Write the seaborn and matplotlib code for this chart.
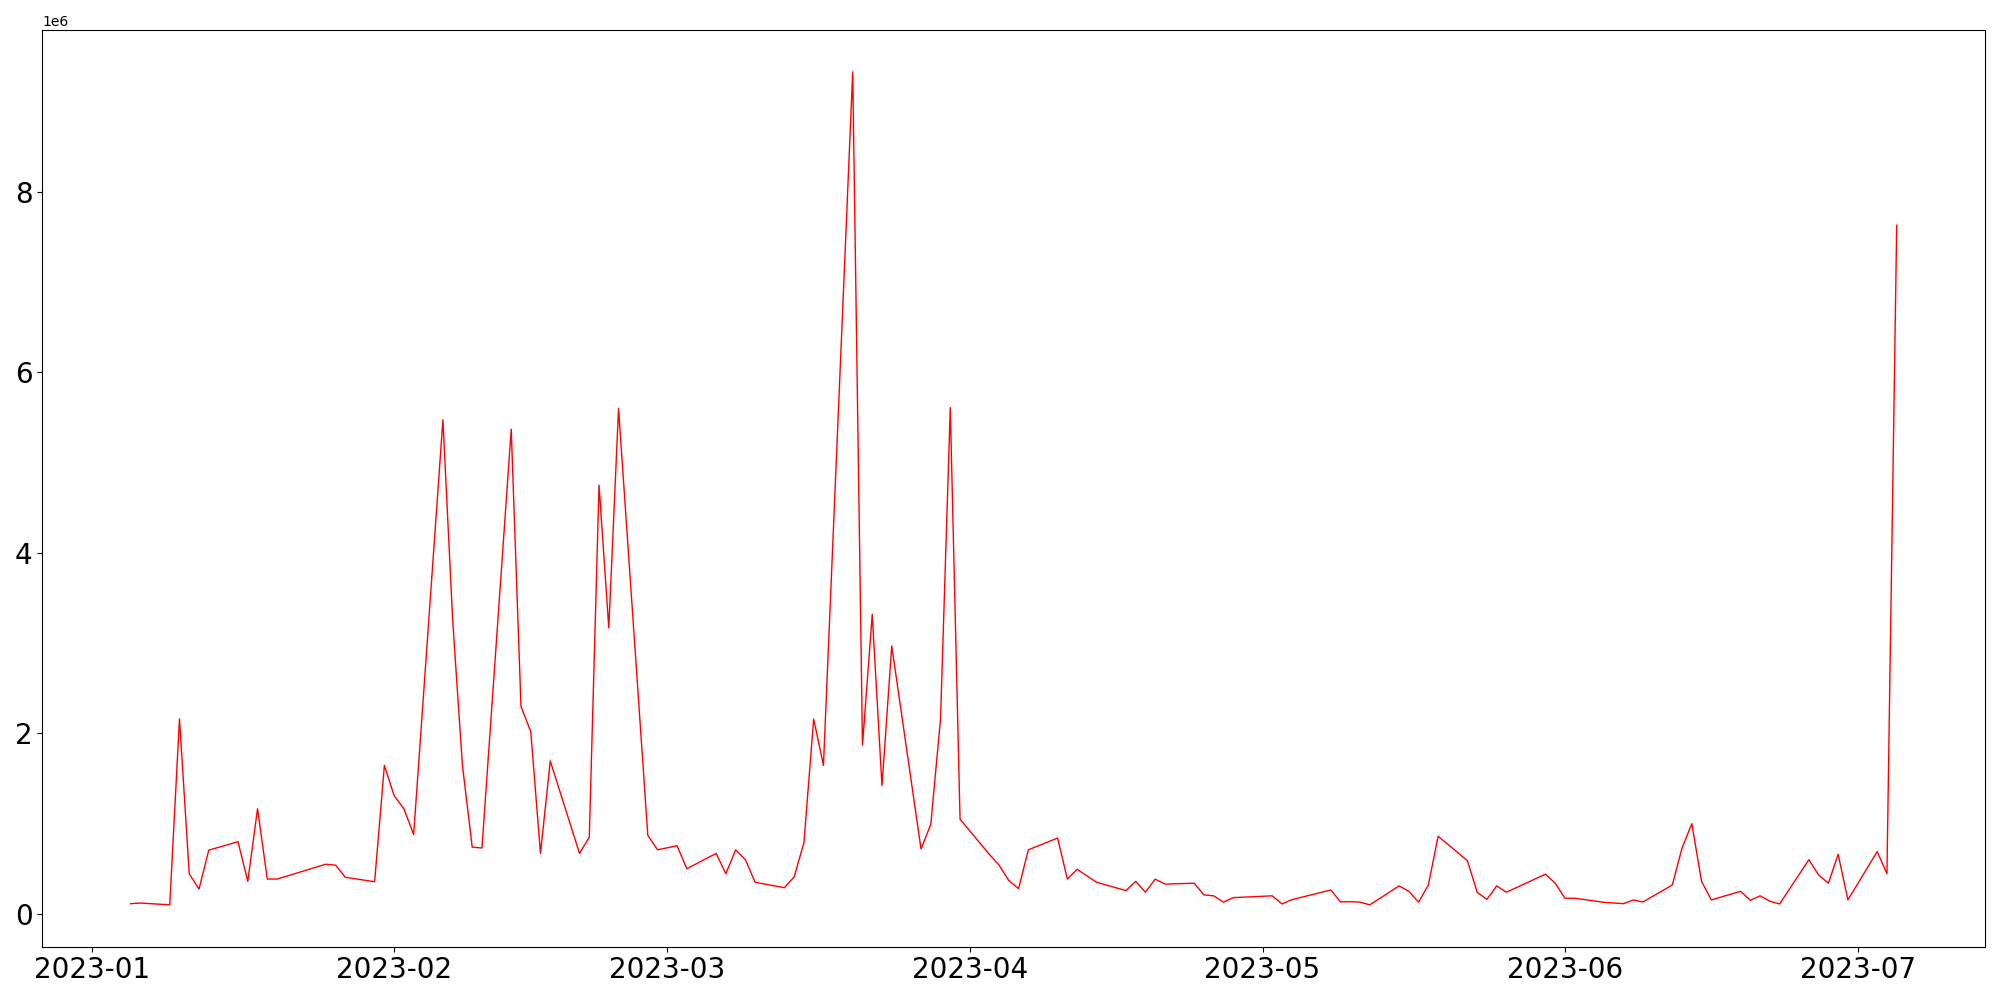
import numpy as np
import pandas as pd
import matplotlib
matplotlib.use('Agg')
import matplotlib.pyplot as plt
import seaborn as sns

# daily values (gaps are days with no data)
dates = ['2023-01-05', '2023-01-06', '2023-01-09', '2023-01-10', '2023-01-11', '2023-01-12', '2023-01-13',
         '2023-01-16', '2023-01-17', '2023-01-18', '2023-01-19', '2023-01-20',
         '2023-01-25', '2023-01-26', '2023-01-27', '2023-01-30', '2023-01-31',
         '2023-02-01', '2023-02-02', '2023-02-03', '2023-02-06', '2023-02-07', '2023-02-08', '2023-02-09',
         '2023-02-10', '2023-02-13', '2023-02-14', '2023-02-15', '2023-02-16', '2023-02-17',
         '2023-02-20', '2023-02-21', '2023-02-22', '2023-02-23', '2023-02-24', '2023-02-27', '2023-02-28',
         '2023-03-02', '2023-03-03', '2023-03-06', '2023-03-07', '2023-03-08', '2023-03-09', '2023-03-10',
         '2023-03-13', '2023-03-14', '2023-03-15', '2023-03-16', '2023-03-17',
         '2023-03-20', '2023-03-21', '2023-03-22', '2023-03-23', '2023-03-24',
         '2023-03-27', '2023-03-28', '2023-03-29', '2023-03-30', '2023-03-31',
         '2023-04-03', '2023-04-04', '2023-04-05', '2023-04-06', '2023-04-07',
         '2023-04-10', '2023-04-11', '2023-04-12', '2023-04-14',
         '2023-04-17', '2023-04-18', '2023-04-19', '2023-04-20', '2023-04-21',
         '2023-04-24', '2023-04-25', '2023-04-26', '2023-04-27', '2023-04-28',
         '2023-05-02', '2023-05-03', '2023-05-04', '2023-05-08', '2023-05-09', '2023-05-10', '2023-05-11',
         '2023-05-12', '2023-05-15', '2023-05-16', '2023-05-17', '2023-05-18', '2023-05-19',
         '2023-05-22', '2023-05-23', '2023-05-24', '2023-05-25', '2023-05-26', '2023-05-30', '2023-05-31',
         '2023-06-01', '2023-06-02', '2023-06-05', '2023-06-07', '2023-06-08', '2023-06-09',
         '2023-06-12', '2023-06-13', '2023-06-14', '2023-06-15', '2023-06-16',
         '2023-06-19', '2023-06-20', '2023-06-21', '2023-06-22', '2023-06-23',
         '2023-06-26', '2023-06-27', '2023-06-28', '2023-06-29', '2023-06-30',
         '2023-07-03', '2023-07-04', '2023-07-05']

values = [113000, 120000, 100000, 2160000, 445000, 275000, 706000,
          800000, 360000, 1165000, 386000, 386000,
          550000, 540000, 406000, 356000, 1645000,
          1310000, 1165000, 880000, 5475000, 3250000, 1645000, 740000,
          730000, 5370000, 2300000, 2020000, 670000, 1695000,
          670000, 850000, 4750000, 3170000, 5600000, 870000, 710000,
          755000, 500000, 670000, 445000, 710000, 600000, 350000,
          290000, 410000, 790000, 2160000, 1645000,
          9330000, 1870000, 3320000, 1420000, 2970000,
          720000, 990000, 2160000, 5610000, 1050000,
          660000, 540000, 370000, 280000, 710000,
          840000, 386000, 494000, 350000,
          258000, 360000, 240000, 385000, 330000,
          340000, 210000, 200000, 130000, 180000,
          200000, 110000, 157000, 265000, 132000, 135000, 130000,
          100000, 310000, 250000, 130000, 320000, 860000,
          590000, 240000, 160000, 310000, 240000, 440000, 340000,
          173000, 173000, 128000, 113000, 154000, 132000,
          320000, 730000, 1000000, 360000, 155000,
          250000, 150000, 200000, 140000, 110000,
          600000, 430000, 340000, 660000, 155000,
          690000, 445000, 7630000]

df = pd.DataFrame({'date': pd.to_datetime(dates), 'value': values})

fig, ax = plt.subplots(figsize=(20, 10), dpi=100)
sns.lineplot(x='date', y='value', data=df, color='red', linewidth=1, ax=ax)
ax.set_xlabel('')
ax.set_ylabel('')
ax.tick_params(axis='both', labelsize=20)
plt.subplots_adjust(left=0.0212, right=0.9925, top=0.9697, bottom=0.0535)
plt.savefig('out.png')
